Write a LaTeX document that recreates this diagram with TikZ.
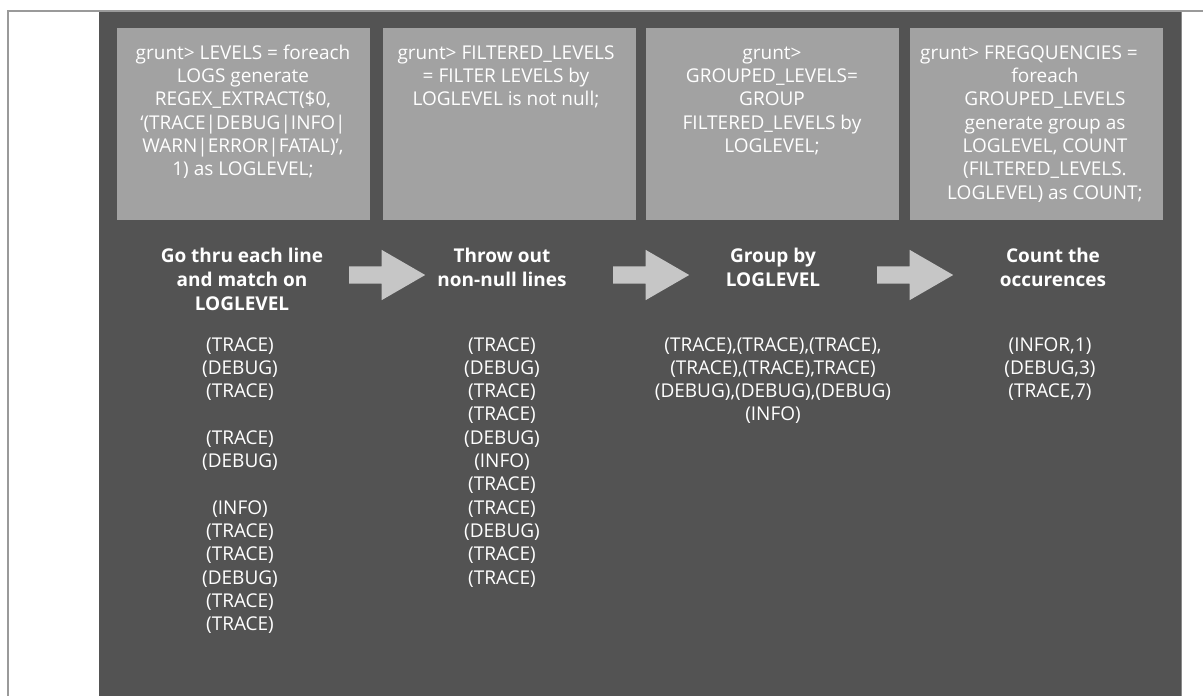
\documentclass[tikz,border=0pt]{standalone}
\usepackage{fontspec}
\setmainfont{Open Sans}
\usetikzlibrary{shapes.arrows}
\definecolor{panelgray}{HTML}{535353}
\definecolor{boxgray}{HTML}{A2A2A2}
\definecolor{arrowgray}{HTML}{C6C6C6}
\definecolor{framegray}{HTML}{9A9A9A}
\definecolor{edgegray}{HTML}{8A8A8A}
\begin{document}
\begin{tikzpicture}[x=1pt,y=-1pt,
  codebox/.style={fill=boxgray, draw=none, minimum width=253pt, minimum height=192pt, inner sep=0pt},
  codetext/.style={anchor=north, inner sep=0pt, align=center, text=white, font=\fontsize{19}{23.3}\selectfont},
  heading/.style={anchor=north, inner sep=0pt, align=center, text=white, font=\fontsize{19}{24}\selectfont\bfseries},
  levels/.style={anchor=north, inner sep=0pt, align=center, text=white, font=\fontsize{19}{23.3}\selectfont},
  blockarrow/.style={single arrow, fill=arrowgray, draw=none, anchor=tail, minimum height=76pt,
    inner sep=8.5pt, single arrow head extend=16.5pt, single arrow tip angle=60}]
\useasboundingbox (0,0) rectangle (1203,696);
\fill[white] (0,0) rectangle (1203,696);

% dark panel and thin frame
\fill[panelgray] (99,12) rectangle (1182,696);
\draw[edgegray, line width=1.5pt] (1181.5,12) -- (1181.5,696);
\draw[framegray, line width=2pt] (8,696) -- (8,11) -- (1203,11);

% Pig statements
\node[codebox] (b1) at (243.5,124) {};
\node[codebox] (b2) at (509,124) {};
\node[codebox] (b3) at (772,124) {};
\node[codebox] (b4) at (1036,124) {};

\node[codetext] (t1) at (243,42.7) {\strut grunt> LEVELS = foreach\\ LOGS generate\\ REGEX\_EXTRACT(\$0,\\ ‘(TRACE|DEBUG|INFO|\\ WARN|ERROR|FATAL)’,\\ 1) as LOGLEVEL;};
\node[codetext] (t2) at (506,42.7) {\strut grunt> FILTERED\_LEVELS\\ = FILTER LEVELS by\\ LOGLEVEL is not null;};
\node[codetext] (t3) at (772,42.7) {\strut grunt>\\ GROUPED\_LEVELS=\\ GROUP\\ FILTERED\_LEVELS by\\ LOGLEVEL;};
\node[codetext] (t4) at (1045,42.7) {\strut grunt> FREGQUENCIES =\hspace*{32pt}\\ foreach\\ GROUPED\_LEVELS\\ generate group as\\ LOGLEVEL, COUNT\\ (FILTERED\_LEVELS.\\ LOGLEVEL) as COUNT;};

% step captions
\node[heading] (h1) at (242,245.2) {\strut Go thru each line\\ and match on\\ LOGLEVEL};
\node[heading] (h2) at (502,245.2) {\strut Throw out\\ non-null lines};
\node[heading] (h3) at (773,245.2) {\strut Group by\\ LOGLEVEL};
\node[heading] (h4) at (1053,245.2) {\strut Count the\\ occurences};

% flow arrows between the steps
\node[blockarrow] (a1) at (349,275) {};
\node[blockarrow] (a2) at (613,275) {};
\node[blockarrow] (a3) at (877,275) {};

% intermediate results
\node[levels] (l1) at (240,334.5) {\strut (TRACE)\\ (DEBUG)\\ (TRACE)\\ \strut\\ (TRACE)\\ (DEBUG)\\ \strut\\ (INFO)\\ (TRACE)\\ (TRACE)\\ (DEBUG)\\ (TRACE)\\ (TRACE)};
\node[levels] (l2) at (502,334.5) {\strut (TRACE)\\ (DEBUG)\\ (TRACE)\\ (TRACE)\\ (DEBUG)\\ (INFO)\\ (TRACE)\\ (TRACE)\\ (DEBUG)\\ (TRACE)\\ (TRACE)};
\node[levels] (l3) at (773,334.5) {\strut (TRACE),(TRACE),(TRACE),\\ (TRACE),(TRACE),TRACE)\\ (DEBUG),(DEBUG),(DEBUG)\\ (INFO)};
\node[levels] (l4) at (1050,334.5) {\strut (INFOR,1)\\ (DEBUG,3)\\ (TRACE,7)};
\end{tikzpicture}
\end{document}
